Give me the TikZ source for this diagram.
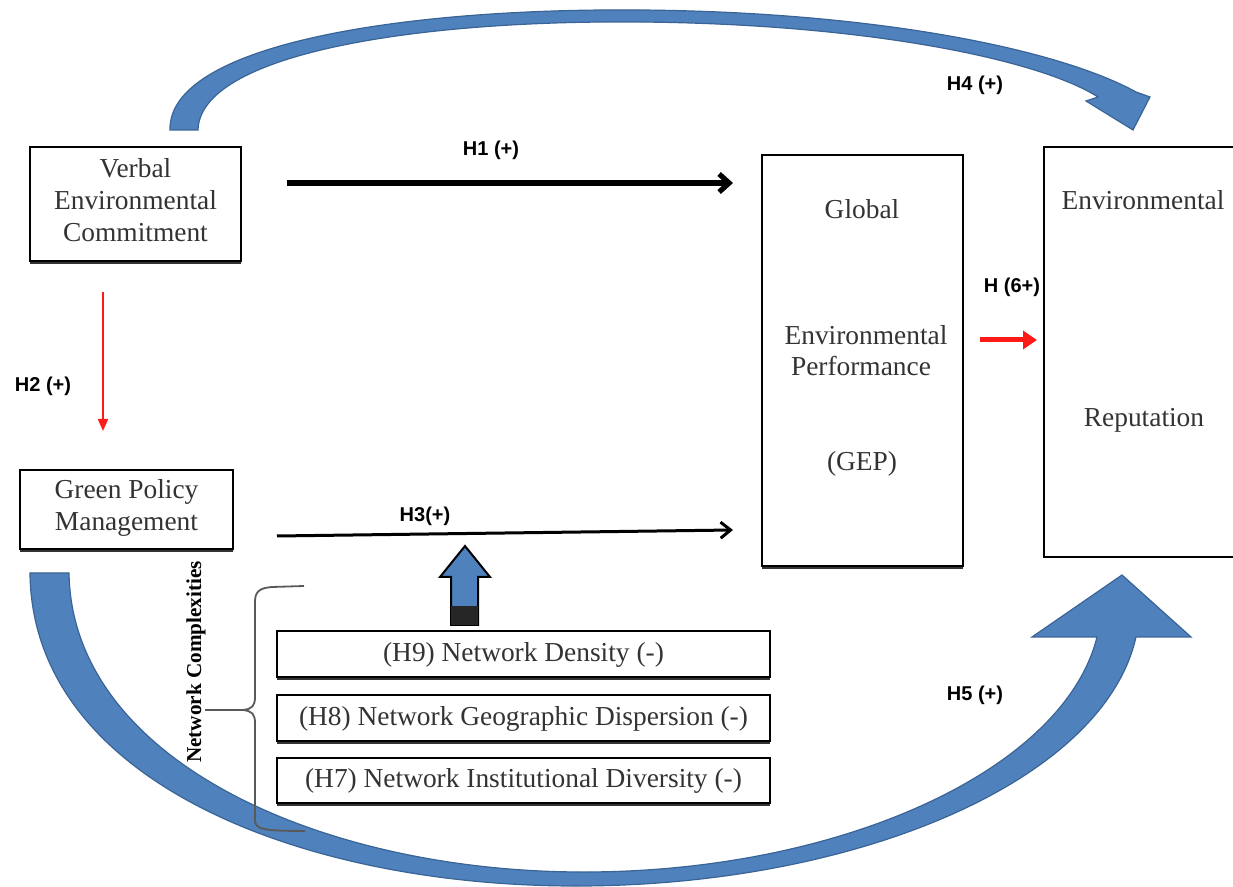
\documentclass[tikz,border=0pt]{standalone}
\usepackage{fontspec}
\setmainfont{Liberation Serif}
\newfontfamily\labfont{Liberation Sans}
\usetikzlibrary{arrows.meta,shadows}
\definecolor{arcblue}{HTML}{4F81BD}
\definecolor{arcedge}{HTML}{3A6496}
\definecolor{txtgray}{HTML}{333333}
\definecolor{hred}{HTML}{FF1A1A}
\begin{document}
\begin{tikzpicture}[x=0.5pt,y=-0.5pt,
  box/.style={draw=black,line width=1pt,fill=white,rectangle,inner sep=0pt,
    drop shadow={shadow xshift=0pt,shadow yshift=-1.3pt,fill=black!80,opacity=1}},
  boxtext/.style={font=\fontsize{13.7}{16}\selectfont,text=txtgray,align=center,inner sep=0pt},
  hlabel/.style={font=\fontsize{10}{12}\selectfont\labfont\bfseries,inner sep=0pt},
  bluearc/.style={fill=arcblue,draw=arcedge,line width=0.6pt},
  blackarrow/.style={draw=black,line width=#1},
  redarrow/.style={draw=hred,line width=#1}
]
\useasboundingbox (0,0) rectangle (1233,887);

% big curved arrows
\path[bluearc] (170,130) .. controls (168,45) and (400,8) .. (640,10)
  .. controls (880,12) and (1060,50) .. (1136,92) -- (1150,97) -- (1133,130)
  -- (1086,101) -- (1098,97) .. controls (1040,60) and (870,24) .. (640,22)
  .. controls (410,20) and (200,55) .. (198,130) -- cycle;
\path[bluearc] (30,573) .. controls (32,780) and (300,887) .. (580,886)
  .. controls (860,885) and (1104,780) .. (1136,637) -- (1191,637) -- (1122,575)
  -- (1032,637) -- (1097,637) .. controls (1064,770) and (840,873) .. (580,872)
  .. controls (320,871) and (72,760) .. (69,573) -- cycle;

% boxes
\node[box,minimum width=105.5pt,minimum height=57pt] (VEC) at (135.5,204) {};
\node[boxtext] (VECt) at (135.5,200) {Verbal\\Environmental\\Commitment};
\node[box,minimum width=106.5pt,minimum height=39.5pt] (GPM) at (126.5,509.5) {};
\node[boxtext] (GPMt) at (126.5,508) {Green Policy\\Management};
\node[box,minimum width=100.5pt,minimum height=205.5pt] (GEP) at (862.5,360.5) {};
\node[boxtext] (GEP1) at (862,209) {Global};
\node[boxtext] (GEP2) at (866,335) {Environmental};
\node[boxtext] (GEP3) at (861,366) {Performance};
\node[boxtext] (GEP4) at (862,464) {(GEP)};
\node[rectangle,minimum width=94.5pt,minimum height=205pt,inner sep=0pt] (ER) at (1138.5,352) {};
\draw[line width=1pt] (ER.north east) -- (ER.north west) -- (ER.south west) -- (ER.south east);
\node[boxtext] (ER1) at (1143,200) {Environmental};
\node[boxtext] (ER2) at (1144,420) {Reputation};

\node[box,minimum width=246.5pt,minimum height=23pt] (H9) at (523.5,654) {};
\node[boxtext] (H9t) at (523.5,655) {(H9) Network Density (-)};
\node[box,minimum width=246.5pt,minimum height=23pt] (H8) at (523.5,718) {};
\node[boxtext] (H8t) at (523.5,719) {(H8) Network Geographic Dispersion (-)};
\node[box,minimum width=246.5pt,minimum height=22.5pt] (H7) at (523.5,780.5) {};
\node[boxtext] (H7t) at (523.5,781) {(H7) Network Institutional Diversity (-)};

% straight arrows
\coordinate (h1s) at (287,183);
\coordinate (h1e) at (733,183);
\draw[blackarrow=2.6pt,-{Straight Barb[length=5pt,width=9pt]}] (h1s) -- (h1e);
\coordinate (h3s) at (277,536);
\coordinate (h3e) at (733,530);
\draw[blackarrow=1.5pt,-{Straight Barb[length=5pt,width=8pt]}] (h3s) -- (h3e);
\coordinate (h2s) at (103,292);
\coordinate (h2e) at (103,431);
\draw[redarrow=1pt,-{Triangle[length=6pt,width=5pt]}] (h2s) -- (h2e);
\coordinate (h6s) at (980,340);
\coordinate (h6e) at (1037,340);
\draw[redarrow=2.5pt,-{Triangle[length=7pt,width=9pt]}] (h6s) -- (h6e);

% block up arrow
\path[fill=arcblue,draw=black,line width=1pt] (465,546) -- (490,577) -- (478,577)
  -- (478,625) -- (451,625) -- (451,577) -- (440,577) -- cycle;
\fill[black!85] (451,606) rectangle (478,625);

% brace
\draw[black!65,line width=0.9pt] (304,586) -- (272,587) .. controls (259,588) and (255,592) .. (255,602)
  -- (255,697) .. controls (255,706) and (252,709) .. (243,710) -- (205,710);
\draw[black!65,line width=0.9pt] (243,710) .. controls (252,711) and (255,714) .. (255,723)
  -- (255,820) .. controls (255,829) and (262,831) .. (305,831);
\node[font=\fontsize{10.6}{12}\selectfont\bfseries,rotate=90,inner sep=0pt] (NC) at (196,662) {Network Complexities};

% labels
\node[hlabel] (L1) at (491,150) {H1 (+)};
\node[hlabel] (L4) at (975,85) {H4 (+)};
\node[hlabel] (L6) at (1012,287) {H (6+)};
\node[hlabel] (L2) at (43,386) {H2 (+)};
\node[hlabel] (L3) at (425,516) {H3(+)};
\node[hlabel] (L5) at (975,695) {H5 (+)};
\end{tikzpicture}
\end{document}
